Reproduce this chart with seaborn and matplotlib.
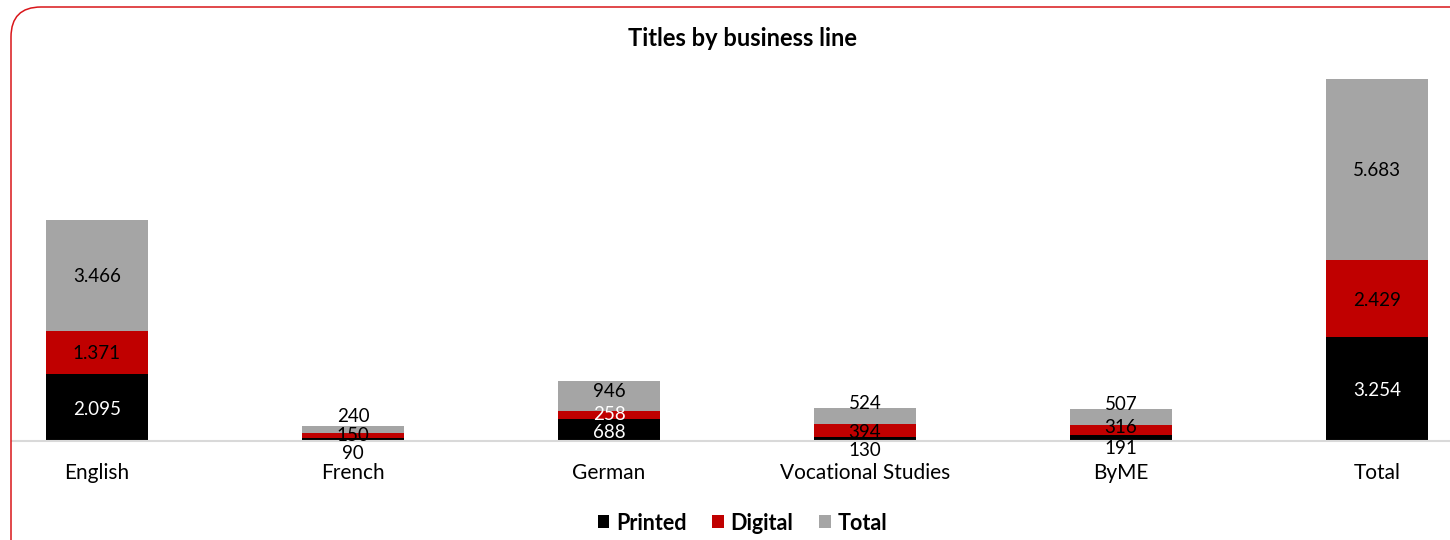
import matplotlib
matplotlib.use("Agg")
import matplotlib.pyplot as plt
from matplotlib.patches import FancyBboxPatch, Patch
from matplotlib.transforms import IdentityTransform
import numpy as np
import pandas as pd
import seaborn as sns

# Data
categories = ["English", "French", "German", "Vocational Studies", "ByME", "Total"]
printed = [2095, 90, 688, 130, 191, 3254]
digital = [1371, 150, 258, 394, 316, 2429]
total = [3466, 240, 946, 524, 507, 5683]

series_names = ["Printed", "Digital", "Total"]
colors = {"Printed": "#000000", "Digital": "#C00000", "Total": "#A5A5A5"}

# Label colours per series (white text sits inside dark bars)
label_colors = {
    "Printed": ["white", "black", "white", "black", "black", "white"],
    "Digital": ["black", "black", "white", "black", "black", "black"],
    "Total": ["black"] * 6,
}
# Vertical nudges (pixels) for labels on thin segments
label_nudge = {
    "Printed": [0, -12, -1, -10, -9, 0],
    "Digital": [0, 2, 2, 0, 4, 0],
    "Total": [0, 15, 6, 14, 14, 0],
}

sns.set_theme(style="white")
plt.rcParams["font.family"] = ["Lato", "DejaVu Sans"]
plt.rcParams["text.color"] = "black"
plt.rcParams["axes.labelcolor"] = "black"
plt.rcParams["xtick.color"] = "black"

df = pd.DataFrame({"category": categories, "Printed": printed,
                   "Digital": digital, "Total": total})
df["cum_printed"] = df["Printed"]
df["cum_digital"] = df["Printed"] + df["Digital"]
df["cum_total"] = df["cum_digital"] + df["Total"]

W, H = 1450, 540
fig = plt.figure(figsize=(W / 100, H / 100), dpi=100)
ax = fig.add_axes([12 / W, (H - 441) / H, 1438 / W, (441 - 60) / H])

# Stacked bars drawn back to front
bar_w = 0.4
sns.barplot(data=df, x="category", y="cum_total", color=colors["Total"],
            width=bar_w, saturation=1, ax=ax, linewidth=0)
sns.barplot(data=df, x="category", y="cum_digital", color=colors["Digital"],
            width=bar_w, saturation=1, ax=ax, linewidth=0)
sns.barplot(data=df, x="category", y="cum_printed", color=colors["Printed"],
            width=bar_w, saturation=1, ax=ax, linewidth=0)

ax.set_xlim(-0.332, 5.285)
ax.set_ylim(0, 11960)

def fmt(v):
    return f"{v:,}".replace(",", ".")

# Segment labels at segment centres
bottoms = {"Printed": np.zeros(6), "Digital": np.array(printed, float),
           "Total": np.array(printed, float) + np.array(digital, float)}
values = {"Printed": printed, "Digital": digital, "Total": total}
for name in series_names:
    for i, v in enumerate(values[name]):
        yc = bottoms[name][i] + v / 2
        ax.annotate(fmt(v), xy=(i, yc), xytext=(0, label_nudge[name][i] - 1.5),
                    textcoords="offset pixels", ha="center", va="center",
                    fontsize=13.5, color=label_colors[name][i])

# Axes styling
for side in ["top", "right", "left"]:
    ax.spines[side].set_visible(False)
ax.spines["bottom"].set_color("#D9D9D9")
ax.spines["bottom"].set_linewidth(1.5)
ax.set_yticks([])
ax.set_xlabel("")
ax.set_ylabel("")
ax.tick_params(axis="x", length=0, pad=16, labelsize=15, colors="black")

fig.text(0.512, 1 - 38 / H, "Titles by business line", ha="center", va="center",
         fontsize=17, fontweight="bold", color="black")

handles = [Patch(facecolor=colors[n], edgecolor="none", label=n) for n in series_names]
fig.legend(handles=handles, loc="center", bbox_to_anchor=(0.512, 1 - 523 / H),
           ncol=3, frameon=False, prop={"weight": "bold", "size": 15.5},
           labelcolor="black",
           handlelength=0.55, handleheight=0.55, handletextpad=0.3, columnspacing=1.2)

# Rounded chart frame
frame = FancyBboxPatch((11, -40), 1500, H - 7 + 40, boxstyle="round,pad=0,rounding_size=30",
                       transform=IdentityTransform(), facecolor="none",
                       edgecolor="#D9161A", linewidth=1.1)
fig.patches.append(frame)

fig.savefig("out.png", dpi=100)
